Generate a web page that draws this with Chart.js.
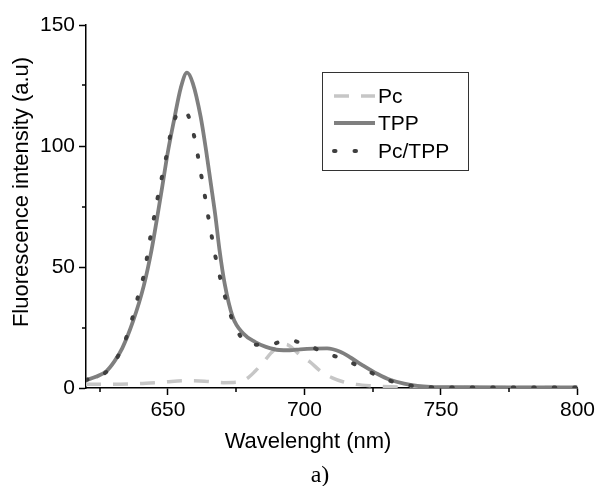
<!DOCTYPE html>
<html>
<head>
<meta charset="utf-8">
<script src="https://cdn.jsdelivr.net/npm/chart.js@4.4.1/dist/chart.umd.min.js"></script>
<style>
  html, body { margin: 0; padding: 0; background: #fff; }
  #wrap { width: 598px; height: 486px; }
</style>
</head>
<body>
<div id="wrap"><canvas id="spectra" width="598" height="486"></canvas></div>
<script>
// Emission spectra (wavelength nm / intensity a.u.)
const pcWave  = [620, 629.4, 639.2, 648.9, 656.7, 663.5, 670.3, 676.2, 679.1, 682, 684.9, 687.8, 690.8, 693.2, 695.6, 698.5, 701.9, 706.2, 710.2, 714.1, 719, 724.8, 731.6, 741.4, 756, 800];
const pcVal   = [1.5, 1.5, 1.8, 2.5, 3.0, 2.8, 2.2, 2.5, 4.0, 7.0, 10.5, 14.5, 17.5, 18.0, 16.5, 13.5, 10.9, 6.7, 4.2, 2.6, 1.5, 0.9, 0.5, 0.3, 0.2, 0.2];

const tppWave = [620, 623.6, 627.5, 630.4, 633.3, 637.2, 641.1, 644, 646, 647.9, 649.9, 652.3, 654.7, 657, 659.1, 662, 664, 665.7, 667.4, 668.9, 670.8, 673.7, 677.6, 682, 685.9, 690.8, 694.6, 698.5, 703.4, 708.3, 713.1, 717, 720.9, 726.8, 731.6, 736.5, 741.4, 746.2, 756, 780, 800];
const tppVal  = [3.3, 4.6, 7.0, 11, 16.5, 27.5, 42, 57, 70, 83, 97, 111, 124, 130.3, 126, 112, 98, 84.6, 71, 57, 43, 29.5, 22.5, 19, 17, 15.7, 15.6, 16, 16.3, 16.4, 15, 12.5, 9.7, 5.8, 3.3, 1.8, 0.9, 0.5, 0.3, 0.2, 0.2];

const mixWave = [620, 627.5, 632.4, 635.3, 637.4, 639.2, 641.1, 642.4, 643.6, 644.9, 646.2, 647.7, 649.2, 650.5, 652.3, 654.5, 656.7, 659.2, 660.7, 661.9, 663.2, 664.3, 665.6, 666.8, 668.3, 670, 672, 674.5, 679.8, 686.7, 693.8, 700.8, 708.1, 715.1, 722.1, 729, 736.1, 743.2, 753, 800];
const mixVal  = [3.3, 6.7, 14.6, 22.6, 30.6, 38.4, 46.3, 54.3, 62.5, 70.4, 78.4, 86.6, 94.5, 102.5, 110.5, 114.8, 114, 106, 97.7, 89.8, 81.8, 73.8, 65.7, 57.7, 49.7, 41.6, 33.6, 25.6, 18.2, 17.8, 19.8, 17.8, 14.3, 11.6, 7.7, 3.9, 1.6, 0.4, 0.2, 0.2];

const xTicks = [650, 700, 750, 800];
const xMinor = [625, 675, 725, 775];
const yTicks = [0, 50, 100, 150];
const yMinor = [25, 75, 125];

const FONT = '"Liberation Sans", Arial, sans-serif';

function pts(xs, ys) {
    return xs.map((x, i) => ({ x: x, y: ys[i] }));
}

const series = [
    { label: 'Pc', data: pts(pcWave, pcVal), color: '#c6c6c6', dash: [15, 12], cap: 'butt', width: 3.5, order: 3 },
    { label: 'TPP', data: pts(tppWave, tppVal), color: '#7f7f7f', dash: [], cap: 'butt', width: 3.8, order: 2 },
    { label: 'Pc/TPP', data: pts(mixWave, mixVal), color: '#3f3f3f', dash: [1.5, 19], cap: 'round', width: 4, order: 1 }
];

// minor tick marks, axis titles, boxed legend, caption
const extras = {
    id: 'extras',
    afterDraw(chart) {
        const ctx = chart.ctx;
        const xs = chart.scales.x, ys = chart.scales.y;
        ctx.save();
        ctx.strokeStyle = '#000';
        ctx.lineWidth = 1.5;
        ctx.beginPath();
        xMinor.forEach(v => {
            const px = Math.round(xs.getPixelForValue(v));
            ctx.moveTo(px, ys.bottom);
            ctx.lineTo(px, ys.bottom + 4);
        });
        yMinor.forEach(v => {
            const py = Math.round(ys.getPixelForValue(v));
            ctx.moveTo(xs.left, py);
            ctx.lineTo(xs.left - 4, py);
        });
        ctx.stroke();

        ctx.fillStyle = '#000';
        ctx.font = '22px ' + FONT;
        ctx.textAlign = 'center';
        ctx.textBaseline = 'alphabetic';
        ctx.fillText('Wavelenght (nm)', 308, 448);

        ctx.save();
        ctx.translate(22, 192);
        ctx.rotate(-Math.PI / 2);
        ctx.textBaseline = 'middle';
        ctx.fillText('Fluorescence intensity (a.u)', 0, 0);
        ctx.restore();

        ctx.font = '24px "Liberation Serif", "Times New Roman", serif';
        ctx.fillText('a)', 320, 482);

        // legend box
        ctx.lineWidth = 1;
        ctx.strokeStyle = '#333';
        ctx.strokeRect(322.5, 72.5, 146, 98);
        ctx.font = '21px ' + FONT;
        ctx.textAlign = 'left';
        ctx.textBaseline = 'middle';
        const rows = [96, 123, 151];
        series.forEach((s, i) => {
            ctx.beginPath();
            ctx.strokeStyle = s.color;
            ctx.lineWidth = s.width;
            ctx.lineCap = s.cap;
            ctx.setLineDash(s.dash);
            ctx.moveTo(334, rows[i]);
            ctx.lineTo(375, rows[i]);
            ctx.stroke();
            ctx.setLineDash([]);
            ctx.fillText(s.label, 378, rows[i] + 1);
        });
        ctx.restore();
    }
};

new Chart(document.getElementById('spectra'), {
    type: 'line',
    data: {
        datasets: series.map(s => ({
            label: s.label,
            data: s.data,
            borderColor: s.color,
            borderWidth: s.width,
            borderDash: s.dash,
            borderCapStyle: s.cap,
            pointRadius: 0,
            fill: false,
            tension: 0.4,
            cubicInterpolationMode: 'monotone',
            order: s.order
        }))
    },
    options: {
        responsive: false,
        animation: false,
        layout: { padding: { top: 25, right: 20, left: 0, bottom: 0 } },
        plugins: {
            legend: { display: false },
            tooltip: { enabled: false }
        },
        scales: {
            x: {
                type: 'linear',
                min: 620,
                max: 800,
                afterBuildTicks: scale => { scale.ticks = xTicks.map(v => ({ value: v })); },
                afterFit: scale => { scale.height = 98; },
                border: { display: true, color: '#000', width: 1.5 },
                grid: { drawOnChartArea: false, drawTicks: true, tickLength: 7, color: '#000', tickWidth: 1.5 },
                ticks: { color: '#000', font: { family: FONT, size: 21 }, padding: 3, maxRotation: 0 }
            },
            y: {
                min: 0,
                max: 150,
                afterBuildTicks: scale => { scale.ticks = yTicks.map(v => ({ value: v })); },
                afterFit: scale => { scale.width = 86; },
                border: { display: true, color: '#000', width: 1.5 },
                grid: { drawOnChartArea: false, drawTicks: true, tickLength: 7, color: '#000', tickWidth: 1.5 },
                ticks: { color: '#000', font: { family: FONT, size: 21 }, padding: 4 }
            }
        }
    },
    plugins: [extras]
});
</script>
</body>
</html>
